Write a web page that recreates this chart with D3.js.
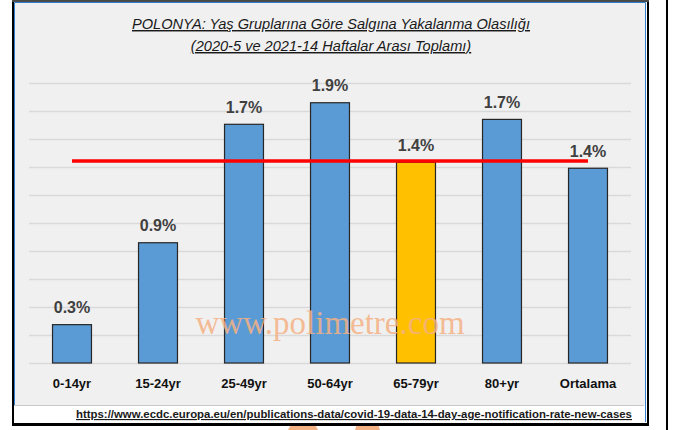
<!DOCTYPE html>
<html>
<head>
<meta charset="utf-8">
<script src="https://cdn.jsdelivr.net/npm/d3@7"></script>
<style>
  html, body { margin: 0; padding: 0; background: #ffffff; }
  svg { display: block; }
</style>
</head>
<body>
<svg id="chart" width="676" height="430"></svg>
<script>
// ---- data ----
const categories = ["0-14yr", "15-24yr", "25-49yr", "50-64yr", "65-79yr", "80+yr", "Ortalama"];
const values = [0.274, 0.859, 1.705, 1.859, 1.434, 1.74, 1.391];
const highlightCategory = "65-79yr";
const referenceValue = 1.443;
const yTicks = [0, 0.2, 0.4, 0.6, 0.8, 1.0, 1.2, 1.4, 1.6, 1.8, 2.0];
const titleLines = [
  "POLONYA: Yaş Gruplarına Göre Salgına Yakalanma Olasılığı",
  "(2020-5 ve 2021-14 Haftalar Arası Toplamı)"
];
const sourceText = "https://www.ecdc.europa.eu/en/publications-data/covid-19-data-14-day-age-notification-rate-new-cases";
const watermarkText = "www.polimetre.com";

// ---- layout ----
const svg = d3.select("#chart");
const plot = { left: 29, right: 631, top: 83, bottom: 363 };

// outer page line on the right
svg.append("rect").attr("x", 666).attr("y", 0).attr("width", 2).attr("height", 430).attr("fill", "#000");

// faint logo pieces peeking at the bottom
svg.append("path").attr("d", "M293,421 L313,421 L318,430 L288,430 Z").attr("fill", "#f4b183");
svg.append("path").attr("d", "M358,421 L377,421 L380,430 L355,430 Z").attr("fill", "#f4b183");

// chart area background
svg.append("rect").attr("x", 15).attr("y", 3).attr("width", 630).attr("height", 402).attr("fill", "#f0f0f0");
// source strip
svg.append("rect").attr("x", 14).attr("y", 405).attr("width", 630).attr("height", 18).attr("fill", "#ffffff");
svg.append("line").attr("x1", 14).attr("x2", 644).attr("y1", 405.5).attr("y2", 405.5).attr("stroke", "#c8c8c8").attr("stroke-width", 1);

// blue selection border
svg.append("path")
  .attr("d", "M14.5,405 L14.5,2.5 L645.5,2.5 L645.5,422")
  .attr("fill", "none").attr("stroke", "#2f7fd0").attr("stroke-width", 1);

// black frame
svg.append("line").attr("x1", 13).attr("x2", 13).attr("y1", 0).attr("y2", 426).attr("stroke", "#000").attr("stroke-width", 2);
svg.append("line").attr("x1", 648).attr("x2", 648).attr("y1", 0).attr("y2", 426).attr("stroke", "#000").attr("stroke-width", 2);
svg.append("line").attr("x1", 12).attr("x2", 649).attr("y1", 424.5).attr("y2", 424.5).attr("stroke", "#000").attr("stroke-width", 3);
svg.append("line").attr("x1", 12).attr("x2", 649).attr("y1", 1).attr("y2", 1).attr("stroke", "#4a4a4a").attr("stroke-width", 2);

// scales
const x = d3.scaleBand().domain(categories).range([plot.left, plot.right]).paddingInner(0.547).paddingOuter(0.2735);
const y = d3.scaleLinear().domain([0, 2.0]).range([plot.bottom, plot.top]);

// gridlines
const grid = svg.append("g").attr("transform", `translate(${plot.left},0)`)
  .call(d3.axisLeft(y).tickValues(yTicks).tickSize(-(plot.right - plot.left)).tickFormat(""));
grid.select(".domain").remove();
grid.selectAll(".tick line").attr("stroke", "#d9d9d9").attr("stroke-width", 1.3);

// bars
svg.append("g").selectAll("rect").data(categories).join("rect")
  .attr("x", d => x(d))
  .attr("y", (d, i) => y(values[i]))
  .attr("width", x.bandwidth())
  .attr("height", (d, i) => y(0) - y(values[i]))
  .attr("fill", d => d === highlightCategory ? "#ffc000" : "#5b9bd5")
  .attr("stroke", "#262626")
  .attr("stroke-width", 1.2);

// value labels
const fmt = d3.format(".1f");
svg.append("g").selectAll("text").data(categories).join("text")
  .attr("x", d => x(d) + x.bandwidth() / 2)
  .attr("y", (d, i) => y(values[i]) - 11.5)
  .attr("text-anchor", "middle")
  .attr("font-family", "'Liberation Sans', Arial, sans-serif")
  .attr("font-weight", "bold")
  .attr("font-size", "16px")
  .attr("fill", "#404040")
  .text((d, i) => fmt(values[i]) + "%");

// reference line
const first = categories[0], last = categories[categories.length - 1];
svg.append("line")
  .attr("x1", x(first) + x.bandwidth() / 2)
  .attr("x2", x(last) + x.bandwidth() / 2)
  .attr("y1", y(referenceValue)).attr("y2", y(referenceValue))
  .attr("stroke", "#ff0000").attr("stroke-width", 3.5);

// x axis
const xAxis = svg.append("g").attr("transform", `translate(0,${plot.bottom})`)
  .call(d3.axisBottom(x).tickSize(0).tickPadding(15.5));
xAxis.select(".domain").remove();
xAxis.selectAll("text")
  .attr("font-family", "'Liberation Sans', Arial, sans-serif")
  .attr("font-weight", "bold")
  .attr("font-size", "13px")
  .attr("fill", "#111");

// watermark
svg.append("text")
  .attr("x", 330).attr("y", 333.5)
  .attr("text-anchor", "middle")
  .attr("font-family", "'Liberation Serif', 'Times New Roman', serif")
  .attr("font-size", "33px")
  .attr("fill", "#f4b183")
  .attr("fill-opacity", 0.85)
  .text(watermarkText);

// title
svg.append("g").selectAll("text").data(titleLines).join("text")
  .attr("x", 331)
  .attr("y", (d, i) => 29 + i * 22)
  .attr("text-anchor", "middle")
  .attr("font-family", "'Liberation Sans', Arial, sans-serif")
  .attr("font-style", "italic")
  .attr("font-size", "14.6px")
  .attr("text-decoration", "underline")
  .attr("fill", "#1a1a1a")
  .text(d => d);

// source
svg.append("text")
  .attr("x", 354).attr("y", 418)
  .attr("text-anchor", "middle")
  .attr("font-family", "'Liberation Sans', Arial, sans-serif")
  .attr("font-weight", "bold")
  .attr("font-size", "11.4px")
  .attr("text-decoration", "underline")
  .attr("fill", "#1a1a1a")
  .text(sourceText);
</script>
</body>
</html>
